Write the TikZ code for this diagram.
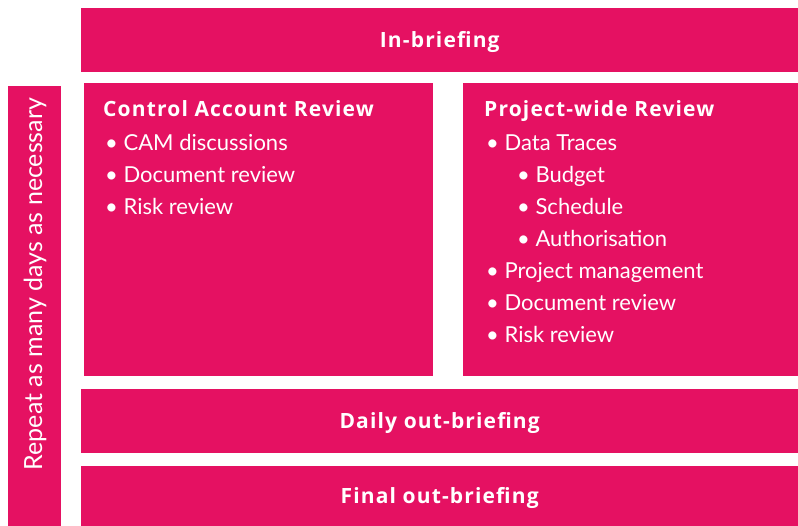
\documentclass[tikz,border=0pt]{standalone}
\usepackage{fontspec}
\setmainfont{Lato}
\newfontfamily\headfont{Open Sans}[LetterSpace=5.5]
\usetikzlibrary{positioning}
\definecolor{ribbon}{RGB}{229,17,98}

\begin{document}
\begin{tikzpicture}[x=1pt, y=-1pt,
  band/.style={fill=ribbon, inner sep=0pt, anchor=north west, text=white,
    text height=15pt, text depth=0pt,
    font=\headfont\bfseries\fontsize{21}{24}\selectfont},
  heading/.style={anchor=base west, inner sep=0pt, text=white,
    font=\headfont\bfseries\fontsize{21}{24}\selectfont},
  item/.style={anchor=base west, inner sep=0pt, text=white,
    font=\fontsize{22}{24}\selectfont}]
\useasboundingbox (0,0) rectangle (798,526);
% bands across the top and bottom
\node[band, minimum width=717pt, minimum height=64pt] (inbrief) at (81,8) {In-briefing};
\node[band, minimum width=717pt, minimum height=64pt] (daily) at (81,389) {Daily out-briefing};
\node[band, minimum width=717pt, minimum height=60pt] (final) at (81,466) {Final out-briefing};
% side bar
\node[band, minimum width=53pt, minimum height=440pt] (repeat) at (8,86) {};
\node[rotate=90, text=white, font=\fontsize{25}{28}\selectfont] (repeattext) at (35,284) {Repeat as many days as necessary};
% two review columns
\node[band, minimum width=349pt, minimum height=293pt] (cam) at (84,83) {};
\node[band, minimum width=335pt, minimum height=293pt] (proj) at (463,83) {};
\node[heading] (camhead) at (103,117) {Control Account Review};
\node[item] (cam1) at (105,151) {\textbullet\ CAM discussions};
\node[item] (cam2) at (105,183) {\textbullet\ Document review};
\node[item] (cam3) at (105,215) {\textbullet\ Risk review};
\node[heading] (projhead) at (484,117) {Project-wide Review};
\node[item] (proj1) at (486,151) {\textbullet\ Data Traces};
\node[item] (proj2) at (517,183) {\textbullet\ Budget};
\node[item] (proj3) at (517,215) {\textbullet\ Schedule};
\node[item] (proj4) at (517,247) {\textbullet\ Authorisation};
\node[item] (proj5) at (486,279) {\textbullet\ Project management};
\node[item] (proj6) at (486,311) {\textbullet\ Document review};
\node[item] (proj7) at (486,343) {\textbullet\ Risk review};
\end{tikzpicture}
\end{document}
